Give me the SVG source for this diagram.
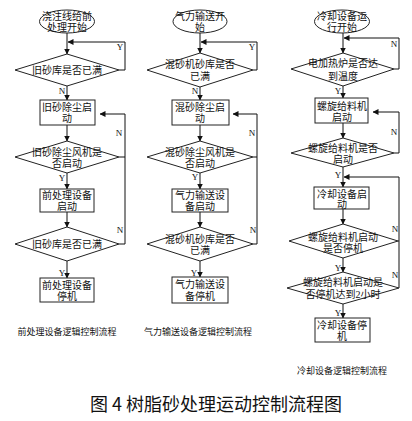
<svg xmlns="http://www.w3.org/2000/svg" width="412" height="421" viewBox="0 0 412 421">
<defs>
<marker id="ah" markerWidth="6" markerHeight="6" refX="5.5" refY="3" orient="auto" markerUnits="userSpaceOnUse">
<path d="M0,0 L6,3 L0,6 Z" fill="#111"/>
</marker>
<style>
.shp{fill:#fff;stroke:#222;stroke-width:1}
.t{font-family:"Liberation Serif","Noto Sans CJK SC",serif;font-size:10px;fill:#111;text-anchor:middle;dominant-baseline:central}
.lb{font-family:"Liberation Serif",serif;font-size:9px;fill:#111;text-anchor:middle;dominant-baseline:central}
.cap{font-family:"Liberation Serif","Noto Sans CJK SC",serif;font-size:9px;fill:#111;text-anchor:middle;dominant-baseline:central}
.ttl{font-family:"Noto Sans CJK SC",sans-serif;font-size:18px;fill:#111;text-anchor:middle;dominant-baseline:central}
.c{fill:none;stroke:#111;stroke-width:1}
.a{fill:none;stroke:#111;stroke-width:1;marker-end:url(#ah)}
</style>
</defs>
<rect width="412" height="421" fill="#fff"/>

<g id="connectors">
<!-- column 1 -->
<path class="a" d="M67,33 V54"/>
<path class="a" d="M67,86 V100"/>
<path class="a" d="M67,125 V141"/>
<path class="a" d="M67,173 V189"/>
<path class="a" d="M67,212 V227"/>
<path class="a" d="M67,261 V278"/>
<path class="a" d="M119,70 H125 V42 H68"/>
<path class="a" d="M119,244 H125 V114 H100"/>
<path class="c" d="M119,157 H125"/>
<!-- column 2 -->
<path class="a" d="M200,33 V53"/>
<path class="a" d="M200,87 V100"/>
<path class="a" d="M200,125 V141"/>
<path class="a" d="M200,173 V189"/>
<path class="a" d="M200,212 V227"/>
<path class="a" d="M200,261 V277"/>
<path class="a" d="M253,70 H257 V42 H201"/>
<path class="a" d="M253,244 H257 V114 H233"/>
<path class="c" d="M253,157 H257"/>
<!-- column 3 -->
<path class="a" d="M343,33 V53"/>
<path class="a" d="M343,86 V98"/>
<path class="a" d="M343,123 V138"/>
<path class="a" d="M343,167 V187"/>
<path class="a" d="M343,209 V224"/>
<path class="a" d="M343,258 V272"/>
<path class="a" d="M343,304 V318"/>
<path class="a" d="M394,69 H399 V38 H344"/>
<path class="a" d="M394,153 H399 V112 H373"/>
<path class="a" d="M399,288 V177 H344"/>
<path class="c" d="M398,241 H399"/>
<!-- labels -->
<text class="lb" x="120" y="47">Y</text>
<text class="lb" x="62" y="91">N</text>
<text class="lb" x="119" y="133">N</text>
<text class="lb" x="62" y="178">Y</text>
<text class="lb" x="120" y="230">N</text>
<text class="lb" x="62" y="273">Y</text>
<text class="lb" x="252" y="47">Y</text>
<text class="lb" x="195" y="91">N</text>
<text class="lb" x="252" y="133">N</text>
<text class="lb" x="195" y="177">Y</text>
<text class="lb" x="253" y="230">N</text>
<text class="lb" x="194" y="273">Y</text>
<text class="lb" x="394" y="44">N</text>
<text class="lb" x="338" y="91">Y</text>
<text class="lb" x="394" y="132">N</text>
<text class="lb" x="338" y="175">Y</text>
<text class="lb" x="395" y="229">N</text>
<text class="lb" x="338" y="268">Y</text>
<text class="lb" x="395" y="275">N</text>
<text class="lb" x="338" y="313">Y</text>
</g>

<!-- column 1 nodes -->
<g id="c1-start"><ellipse class="shp" cx="67" cy="21.5" rx="27.5" ry="11.5"/><text class="t" x="67" y="16">浇注线给前</text><text class="t" x="67" y="27">处理开始</text></g>
<g id="c1-d1"><polygon class="shp" points="67,54 119,70 67,86 15,70"/><text class="t" x="67" y="70">旧砂库是否已满</text></g>
<g id="c1-r1"><rect class="shp" x="40" y="100" width="55" height="25"/><text class="t" x="67" y="107">旧砂除尘启</text><text class="t" x="67" y="118">动</text></g>
<g id="c1-d2"><polygon class="shp" points="67,141 119,157 67,173 15,157"/><text class="t" x="67" y="152">旧砂除尘风机是</text><text class="t" x="67" y="163">否启动</text></g>
<g id="c1-r2"><rect class="shp" x="40" y="189" width="54" height="23"/><text class="t" x="67" y="195">前处理设备</text><text class="t" x="67" y="206">启动</text></g>
<g id="c1-d3"><polygon class="shp" points="67,227 119,244 67,261 15,244"/><text class="t" x="67" y="244">旧砂库是否已满</text></g>
<g id="c1-r3"><rect class="shp" x="40" y="278" width="54" height="24"/><text class="t" x="67" y="285">前处理设备</text><text class="t" x="67" y="296">停机</text></g>
<text class="cap" x="67" y="332">前处理设备逻辑控制流程</text>

<!-- column 2 nodes -->
<g id="c2-start"><ellipse class="shp" cx="200" cy="21.5" rx="27" ry="11.5"/><text class="t" x="200" y="16">气力输送开</text><text class="t" x="200" y="27">始</text></g>
<g id="c2-d1"><polygon class="shp" points="200,53 253,70 200,87 147,70"/><text class="t" x="200" y="64">混砂机砂库是否</text><text class="t" x="200" y="76">已满</text></g>
<g id="c2-r1"><rect class="shp" x="172" y="100" width="57" height="25"/><text class="t" x="200" y="107">混砂除尘启</text><text class="t" x="200" y="118">动</text></g>
<g id="c2-d2"><polygon class="shp" points="200,141 253,157 200,173 147,157"/><text class="t" x="200" y="152">混砂除尘风机是</text><text class="t" x="200" y="163">否启动</text></g>
<g id="c2-r2"><rect class="shp" x="172" y="189" width="56" height="23"/><text class="t" x="200" y="195">气力输送设</text><text class="t" x="200" y="206">备启动</text></g>
<g id="c2-d3"><polygon class="shp" points="200,227 253,244 200,261 147,244"/><text class="t" x="200" y="239">混砂机砂库是否</text><text class="t" x="200" y="250">已满</text></g>
<g id="c2-r3"><rect class="shp" x="172" y="277" width="56" height="26"/><text class="t" x="200" y="284">气力输送设</text><text class="t" x="200" y="296">备停机</text></g>
<text class="cap" x="198" y="332">气力输送设备逻辑控制流程</text>

<!-- column 3 nodes -->
<g id="c3-start"><ellipse class="shp" cx="342" cy="21.5" rx="27.5" ry="11.5"/><text class="t" x="342" y="16">冷却设备运</text><text class="t" x="342" y="27">行开始</text></g>
<g id="c3-d1"><polygon class="shp" points="343,53 394,69 343,86 291,69"/><text class="t" x="343" y="63">电加热炉是否达</text><text class="t" x="343" y="76">到温度</text></g>
<g id="c3-r1"><rect class="shp" x="315" y="98" width="53" height="25"/><text class="t" x="342" y="106">螺旋给料机</text><text class="t" x="342" y="117">启动</text></g>
<g id="c3-d2"><polygon class="shp" points="343,138 394,153 343,167 291,153"/><text class="t" x="343" y="148">螺旋给料机是否</text><text class="t" x="343" y="159">启动</text></g>
<g id="c3-r2"><rect class="shp" x="314" y="187" width="55" height="22"/><text class="t" x="342" y="194">冷却设备启</text><text class="t" x="342" y="204">动</text></g>
<g id="c3-d3"><polygon class="shp" points="343,224 398,241 343,258 289,241"/><text class="t" x="343" y="237">螺旋给料机启动</text><text class="t" x="343" y="248">是否停机</text></g>
<g id="c3-d4"><polygon class="shp" points="343,272 399,288 343,304 287,288"/><text class="t" x="343" y="282">螺旋给料机启动是</text><text class="t" x="343" y="294">否停机达到2小时</text></g>
<g id="c3-r3"><rect class="shp" x="315" y="318" width="55" height="24"/><text class="t" x="342" y="325">冷却设备停</text><text class="t" x="342" y="336">机</text></g>
<text class="cap" x="342" y="371">冷却设备逻辑控制流程</text>

<text class="ttl" x="216" y="403">图 4 树脂砂处理运动控制流程图</text>
</svg>
